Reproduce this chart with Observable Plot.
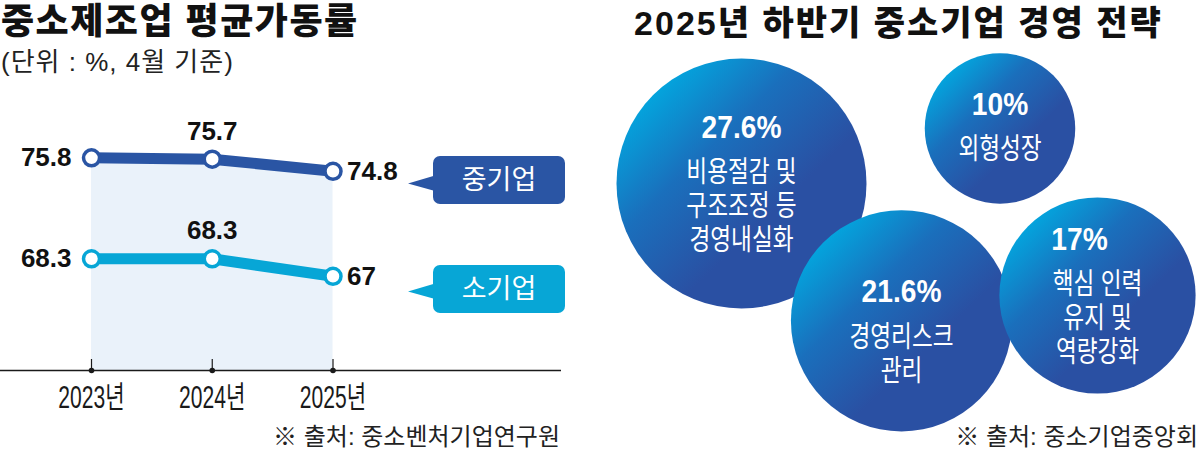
<!DOCTYPE html>
<html><head><meta charset="utf-8">
<script src="https://cdn.jsdelivr.net/npm/d3@7"></script>
<script src="https://cdn.jsdelivr.net/npm/@observablehq/plot@0.6"></script>
<style>
body{margin:0;background:#fff;}
#wrap{position:relative;width:1200px;height:451px;background:#fff;font-family:"Liberation Sans","Noto Sans CJK KR",sans-serif;}
.abs{position:absolute;white-space:nowrap;}
.box{position:absolute;width:132px;height:48px;border-radius:7px;color:#fff;font-size:27px;line-height:48px;text-align:center;}
.ptr{position:absolute;width:27px;height:17px;clip-path:polygon(0px 8.5px,27px 0.5px,27px 16px);}
</style></head><body>
<div id="wrap">
  <div id="left" class="abs" style="left:0;top:0"></div>
  <div id="right" class="abs" style="left:600px;top:0"></div>
  <div class="abs" style="left:1px;top:4px;font-size:36px;line-height:36px;font-weight:900;color:#111;letter-spacing:1.5px;">중소제조업 평균가동률</div>
  <div class="abs" style="left:1px;top:47px;font-size:26px;line-height:30px;font-weight:400;color:#222;letter-spacing:1px;">(단위 : %, 4월 기준)</div>
  <div class="abs" style="left:600px;width:597px;text-align:center;top:6px;font-size:34px;line-height:34px;font-weight:900;color:#111;letter-spacing:2px;">2025년 하반기 중소기업 경영 전략</div>
  <div class="abs" style="left:0;width:560px;text-align:right;top:425px;font-size:24px;line-height:24px;color:#222;">※ 출처: 중소벤처기업연구원</div>
  <div class="abs" style="left:600px;width:598px;text-align:right;top:425px;font-size:24px;line-height:24px;color:#222;">※ 출처: 중소기업중앙회</div>
  <div class="ptr" style="left:408px;top:175px;background:#2A55A4"></div>
  <div class="box" style="left:433px;top:156px;background:#2A55A4">중기업</div>
  <div class="ptr" style="left:408px;top:283px;background:#07A6D6"></div>
  <div class="box" style="left:433px;top:265px;background:#07A6D6">소기업</div>
</div>
<script>
// ---- data ----
const years = [2023, 2024, 2025];
const seriesNames = ["중기업", "소기업"];
const midValues = [75.8, 75.7, 74.8];
const smallValues = [68.3, 68.3, 67];

const strategyValues = [27.6, 10, 21.6, 17];
const strategyLabels = [
  ["비용절감 및", "구조조정 등", "경영내실화"],
  ["외형성장"],
  ["경영리스크", "관리"],
  ["핵심 인력", "유지 및", "역량강화"]
];

// ---- layout (bubble placement, not data) ----
const bubbleCx = [141, 399.5, 301, 497];
const bubbleCy = [183, 128, 320.3, 295];
const textDy = [0, -2, 10, 0];
const pctDx = [0, 0, 0, -18];

// ---- left: line chart ----
const lineData = years.flatMap((yr, i) => [
  {year: yr, value: midValues[i], series: seriesNames[0]},
  {year: yr, value: smallValues[i], series: seriesNames[1]}
]);
const yBase = 60;
const pxPerUnit = 13.46;
const numFont = "'Liberation Sans','Noto Sans CJK KR',sans-serif";

const left = Plot.plot({
  width: 600, height: 451,
  marginTop: 0, marginLeft: 0, marginRight: 39, marginBottom: 81,
  style: {background: "transparent", fontFamily: numFont, overflow: "visible"},
  x: {type: "linear", domain: [years[0], years[years.length - 1]], range: [91, 332.5], label: null},
  y: {domain: [yBase, 80], range: [370, 370 - 20 * pxPerUnit], axis: null},
  color: {domain: seriesNames, range: ["#2A55A4", "#07A6D6"]},
  marks: [
    Plot.areaY(lineData.filter(d => d.series === seriesNames[0]), {x: "year", y1: yBase, y2: "value", fill: "#EAF2FA"}),
    Plot.ruleY([yBase], {stroke: "#1a1a1a", strokeWidth: 1.6}),
    Plot.ruleX(years, {insetTop: 359, stroke: "#1a1a1a", strokeWidth: 1.2}),
    Plot.dot(years, {x: d => d, y: () => yBase, r: 2.8, fill: "#1a1a1a"}),
    Plot.axisX({ticks: years, tickSize: 0, tickPadding: 15, tickFormat: d => `${d}년`, fontSize: 31, fill: "#1a1a1a", label: null}),
    Plot.line(lineData, {x: "year", y: "value", z: "series", stroke: "series", strokeWidth: 11}),
    Plot.dot(lineData, {x: "year", y: "value", r: 8, fill: "white", stroke: "series", strokeWidth: 3.5}),
    Plot.text(lineData.filter(d => d.year === years[0]), {x: "year", y: "value", text: d => String(d.value), textAnchor: "end", dx: -20, fontSize: 26, fontWeight: "bold", fill: "#111"}),
    Plot.text(lineData.filter(d => d.year === years[1]), {x: "year", y: "value", text: d => String(d.value), dy: -28, fontSize: 26, fontWeight: "bold", fill: "#111"}),
    Plot.text(lineData.filter(d => d.year === years[2]), {x: "year", y: "value", text: d => String(d.value), textAnchor: "start", dx: 14, fontSize: 26, fontWeight: "bold", fill: "#111"})
  ]
});
document.getElementById("left").appendChild(left);

// ---- right: bubbles ----
const bubbles = strategyValues.map((v, i) => ({value: v, lines: strategyLabels[i], cx: bubbleCx[i], cy: bubbleCy[i]}));
const gap = 44, lh = 34, descSize = 29;
const pctRows = [], descRows = [];
bubbles.forEach((b, i) => {
  const n = b.lines.length;
  const top = b.cy - (gap + lh * (n - 1)) / 2 + textDy[i];
  pctRows.push({x: b.cx + pctDx[i], y: top, text: `${b.value}%`});
  descRows.push({x: b.cx, y: top + gap + lh * (n - 1) / 2, text: b.lines.join("\n")});
});

const right = Plot.plot({
  width: 600, height: 451, margin: 0,
  style: {background: "transparent", fontFamily: numFont, overflow: "visible"},
  x: {domain: [0, 600], range: [0, 600], axis: null},
  y: {domain: [0, 451], range: [0, 451], axis: null},
  r: {domain: [0, d3.max(strategyValues)], range: [0, 125]},
  marks: [
    Plot.dot(bubbles, {x: "cx", y: "cy", r: "value", fill: "url(#bubbleGrad)"}),
    Plot.text(pctRows, {x: "x", y: "y", text: "text", fill: "white", fontSize: 32, fontWeight: "bold", ariaDescription: "pct"}),
    Plot.text(descRows, {x: "x", y: "y", text: "text", fill: "white", fontSize: descSize, lineHeight: lh / descSize, fontFamily: numFont, ariaDescription: "desc"})
  ]
});
d3.select(right).insert("defs", ":first-child").html(
  `<linearGradient id="bubbleGrad" x1="0.12" y1="0.1" x2="0.62" y2="0.62">
     <stop offset="0" stop-color="#00ACE2"/>
     <stop offset="0.5" stop-color="#1A6FBC"/>
     <stop offset="1" stop-color="#2A50A3"/>
   </linearGradient>`);
document.getElementById("right").appendChild(right);

// horizontal condensing of some text
function condense(svg, selector, s) {
  svg.querySelectorAll(selector).forEach(t => {
    t.setAttribute("transform", (t.getAttribute("transform") || "") + ` scale(${s},1)`);
  });
}
condense(right, 'g[aria-description="pct"] text', 0.88);
condense(right, 'g[aria-description="desc"] text', 0.78);
condense(left, 'g[aria-label="x-axis tick label"] text', 0.68);
</script>
</body></html>
